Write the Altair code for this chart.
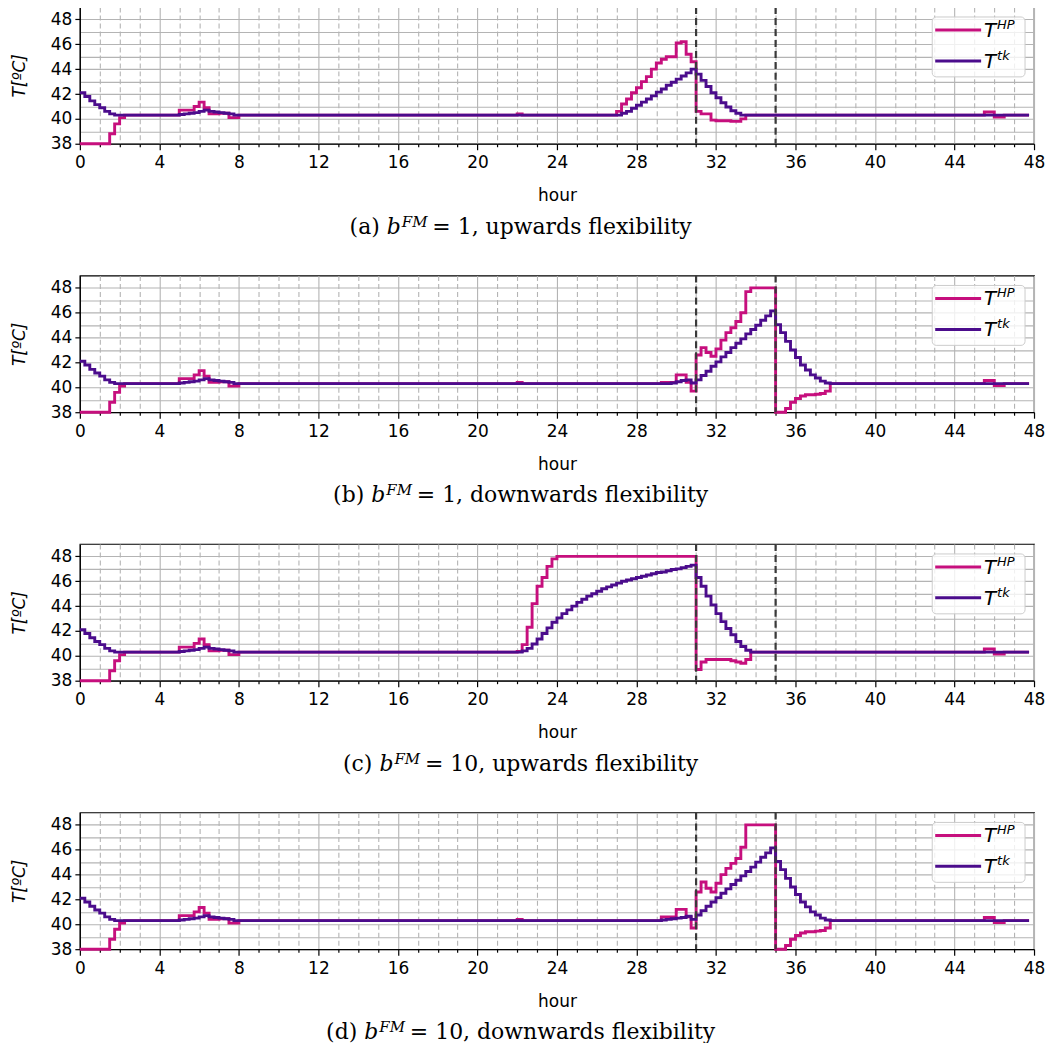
import altair as alt
import pandas as pd

HP = "HP"
TK = "tk"
SERIES = [HP, TK]
COLORS = ["#c60f7d", "#4b0c8c"]

X_TICKS = list(range(0, 49))
Y_TICKS = list(range(38, 49))
EVENT_HOURS = [31, 35]

# ---- segments shared by all four runs ----
HP_START_H = [0.0, 1.5, 1.75, 2.0, 2.25, 5.0, 5.75, 6.0, 6.25, 6.5, 7.0, 7.5, 8.0]
HP_START_V = [38.0, 38.8, 39.6, 40.1, 40.3, 40.7, 41.0, 41.35, 40.9, 40.4, 40.45, 40.1, 40.3]
TK_START_H = [0.0, 0.25, 0.5, 0.75, 1.0, 1.25, 1.5, 1.75, 5.0, 5.25, 5.5, 5.75,
              6.0, 6.25, 6.5, 6.75, 7.0, 7.25, 7.5, 7.75]
TK_START_V = [42.1, 41.8, 41.45, 41.15, 40.9, 40.6, 40.4, 40.3, 40.35, 40.4, 40.45, 40.5,
              40.6, 40.7, 40.6, 40.55, 40.5, 40.45, 40.4, 40.3]
HP_END_H = [45.5, 46.0, 46.5, 47.75]
HP_END_V = [40.55, 40.15, 40.3, 40.3]
TK_END_H = [47.75]
TK_END_V = [40.3]

# ---- (a) b=1, upwards ----
HP_A_H = [22.0, 22.25, 27.0, 27.25, 27.5, 27.75, 28.0, 28.25, 28.5, 28.75, 29.0, 29.25,
          29.5, 29.75, 30.0, 30.25, 30.5, 30.75, 31.0, 31.25, 31.5, 31.75, 32.0, 32.5,
          32.75, 33.0, 33.25, 33.5]
HP_A_V = [40.4, 40.3, 40.6, 41.2, 41.6, 42.1, 42.5, 43.0, 43.4, 44.0, 44.5, 44.8,
          45.0, 45.0, 46.1, 46.2, 45.2, 44.6, 40.6, 40.4, 40.4, 39.9, 39.85, 39.85,
          39.8, 39.8, 40.0, 40.3]
TK_A_H = [27.25, 27.5, 27.75, 28.0, 28.25, 28.5, 28.75, 29.0, 29.25, 29.5, 29.75, 30.0,
          30.25, 30.5, 30.75, 31.0, 31.25, 31.5, 31.75, 32.0, 32.25, 32.5, 32.75, 33.0, 33.25]
TK_A_V = [40.45, 40.6, 40.85, 41.1, 41.35, 41.6, 41.85, 42.15, 42.4, 42.7, 42.95, 43.2,
          43.45, 43.7, 44.0, 43.6, 43.1, 42.6, 42.1, 41.7, 41.3, 40.95, 40.65, 40.45, 40.3]

# ---- (b) b=1, downwards ----
HP_B_H = [22.0, 22.25, 29.25, 30.0, 30.5, 30.75, 31.0, 31.25, 31.5, 31.75, 32.0, 32.25,
          32.5, 32.75, 33.0, 33.25, 33.5, 33.75, 35.0, 35.5, 35.75, 36.0, 36.25, 36.5,
          37.0, 37.25, 37.5, 37.75]
HP_B_V = [40.4, 40.3, 40.4, 41.0, 40.4, 39.7, 42.6, 43.2, 42.8, 42.5, 43.1, 43.8,
          44.4, 44.8, 45.3, 46.0, 47.7, 48.0, 38.0, 38.3, 38.8, 39.1, 39.3, 39.4,
          39.45, 39.5, 39.7, 40.3]
TK_B_H = [29.75, 30.0, 30.25, 30.5, 30.75, 31.0, 31.25, 31.5, 31.75, 32.0, 32.25, 32.5,
          32.75, 33.0, 33.25, 33.5, 33.75, 34.0, 34.25, 34.5, 34.75, 35.0, 35.25, 35.5,
          35.75, 36.0, 36.25, 36.5, 36.75, 37.0, 37.25, 37.5, 37.75]
TK_B_V = [40.35, 40.45, 40.55, 40.6, 40.35, 40.6, 40.95, 41.3, 41.7, 42.05, 42.45, 42.8,
          43.2, 43.55, 43.9, 44.3, 44.65, 45.0, 45.4, 45.75, 46.15, 45.05, 44.4, 43.7,
          43.0, 42.4, 41.8, 41.4, 41.0, 40.75, 40.5, 40.35, 40.3]

# ---- (c) b=10, upwards ----
HP_C_H = [22.0, 22.25, 22.5, 22.75, 23.0, 23.25, 23.5, 23.75, 24.0, 31.0, 31.25, 31.5,
          32.75, 33.0, 33.25, 33.5, 33.75]
HP_C_V = [40.35, 40.9, 42.3, 44.2, 45.6, 46.3, 47.2, 47.8, 48.0, 38.9, 39.5, 39.7,
          39.6, 39.5, 39.4, 39.7, 40.3]
TK_C_H = [22.25, 22.5, 22.75, 23.0, 23.25, 23.5, 23.75, 24.0, 24.25, 24.5, 24.75, 25.0,
          25.25, 25.5, 25.75, 26.0, 26.25, 26.5, 26.75, 27.0, 27.25, 27.5, 27.75, 28.0,
          28.25, 28.5, 28.75, 29.0, 29.25, 29.5, 29.75, 30.0, 30.25, 30.5, 30.75, 31.0,
          31.25, 31.5, 31.75, 32.0, 32.25, 32.5, 32.75, 33.0, 33.25, 33.5, 33.75]
TK_C_V = [40.4, 40.6, 40.95, 41.35, 41.8, 42.25, 42.7, 43.05, 43.4, 43.7, 44.0, 44.3,
          44.55, 44.8, 45.0, 45.2, 45.4, 45.55, 45.7, 45.85, 46.0, 46.1, 46.2, 46.3,
          46.4, 46.5, 46.6, 46.7, 46.75, 46.85, 46.95, 47.0, 47.1, 47.2, 47.3, 46.3,
          45.6, 44.8, 44.1, 43.4, 42.75, 42.2, 41.7, 41.15, 40.75, 40.45, 40.3]

# ---- (d) b=10, downwards ----
HP_D_H = [22.0, 22.25, 29.25, 30.0, 30.5, 30.75, 31.0, 31.25, 31.5, 31.75, 32.0, 32.25,
          32.5, 32.75, 33.0, 33.25, 33.5, 35.0, 35.5, 35.75, 36.0, 36.25, 36.5, 37.0,
          37.25, 37.5, 37.75]
HP_D_V = [40.4, 40.3, 40.6, 41.2, 40.6, 39.7, 42.6, 43.4, 42.9, 42.6, 43.3, 44.0,
          44.5, 44.9, 45.3, 46.2, 48.0, 38.0, 38.3, 38.8, 39.1, 39.3, 39.4, 39.45,
          39.5, 39.7, 40.3]
TK_D_H = [29.25, 29.5, 29.75, 30.0, 30.25, 30.5, 30.75, 31.0, 31.25, 31.5, 31.75, 32.0,
          32.25, 32.5, 32.75, 33.0, 33.25, 33.5, 33.75, 34.0, 34.25, 34.5, 34.75, 35.0,
          35.25, 35.5, 35.75, 36.0, 36.25, 36.5, 36.75, 37.0, 37.25, 37.5, 37.75]
TK_D_V = [40.35, 40.4, 40.45, 40.5, 40.55, 40.65, 40.4, 40.75, 41.1, 41.45, 41.8, 42.15,
          42.5, 42.85, 43.2, 43.55, 43.9, 44.25, 44.6, 45.0, 45.4, 45.75, 46.15, 45.05,
          44.4, 43.7, 43.0, 42.4, 41.8, 41.4, 41.0, 40.75, 40.5, 40.35, 40.3]

CAPTIONS = [
    ("(a)", "= 1, upwards flexibility"),
    ("(b)", "= 1, downwards flexibility"),
    ("(c)", "= 10, upwards flexibility"),
    ("(d)", "= 10, downwards flexibility"),
]
PANELS = [
    (HP_A_H, HP_A_V, TK_A_H, TK_A_V),
    (HP_B_H, HP_B_V, TK_B_H, TK_B_V),
    (HP_C_H, HP_C_V, TK_C_H, TK_C_V),
    (HP_D_H, HP_D_V, TK_D_H, TK_D_V),
]

W, H = 956, 137
AX_FONT = "DejaVu Sans"
CAP_FONT = "DejaVu Serif"
CAP_SIZE = 22
SUP_SIZE = 15

# approximate DejaVu Serif advance widths (em) for caption layout
CW = {" ": 0.318, "(": 0.39, ")": 0.39, "a": 0.596, "b": 0.64, "c": 0.56, "d": 0.64,
      "e": 0.592, "f": 0.37, "i": 0.32, "l": 0.32, "n": 0.644, "o": 0.602, "p": 0.64,
      "r": 0.478, "s": 0.513, "t": 0.402, "u": 0.644, "w": 0.856, "x": 0.564, "y": 0.565,
      "=": 0.838, "0": 0.636, "1": 0.636, ",": 0.318, "F": 0.67, "M": 0.9}


def tw(s, size):
    return sum(CW.get(c, 0.6) for c in s) * size


x_scale = alt.Scale(domain=[0, 48], nice=False, zero=False)
y_scale = alt.Scale(domain=[38, 49], nice=False, zero=False)

x_axis = alt.Axis(
    values=X_TICKS,
    labelExpr="datum.value % 4 === 0 ? datum.label : ''",
    labelOverlap=False, labelFlush=False,
    grid=True, gridColor="#b4b4b4", gridWidth=1.1,
    gridDash={"condition": {"test": "datum.value % 4 === 0", "value": [1, 0]}, "value": [5, 3]},
    tickSize={"condition": {"test": "datum.value % 4 === 0", "value": 6}, "value": 3},
    tickColor="black", tickWidth=1.2, domainColor="black", domainWidth=1.2,
    labelPadding=5, title="hour", titlePadding=16, minExtent=28, maxExtent=28,
)
y_axis = alt.Axis(
    values=Y_TICKS,
    labelExpr="datum.value % 2 === 0 ? datum.label : ''",
    labelOverlap=False, labelFlush=False,
    grid=True, gridColor="#b4b4b4", gridWidth=1.1,
    tickOpacity={"condition": {"test": "datum.value % 2 === 0", "value": 1}, "value": 0},
    tickSize=5, tickColor="black", tickWidth=1.2, domainColor="black", domainWidth=1.2,
    labelPadding=3, title="T[ºC]", titleFontStyle="italic", titlePadding=9,
    minExtent=42, maxExtent=42,
)


def txt(s, x, y, size, style, align, font, color="black"):
    return alt.Chart(pd.DataFrame({"t": [s]})).mark_text(
        align=align, baseline="alphabetic", font=font, fontSize=size,
        fontStyle=style, color=color
    ).encode(x=alt.value(x), y=alt.value(y), text="t:N")


def legend_layers():
    box = alt.Chart(pd.DataFrame({"k": [0]})).mark_rect(
        fill="white", fillOpacity=0.8, stroke="#cccccc", strokeWidth=1, cornerRadius=4
    ).encode(x=alt.value(W - 102), x2=alt.value(W - 9), y=alt.value(10), y2=alt.value(70))
    out = [box]
    for i, name in enumerate(SERIES):
        yy = 23 + 31 * i
        out.append(
            alt.Chart(pd.DataFrame({"k": [name]})).mark_rule(
                color=COLORS[i], strokeWidth=3
            ).encode(x=alt.value(W - 99), x2=alt.value(W - 53), y=alt.value(yy))
        )
        out.append(txt("T", W - 50, yy + 7, 20, "italic", "left", AX_FONT))
        out.append(txt(name, W - 37, yy - 1, 13, "italic", "left", AX_FONT))
    return out


def make_panel(idx):
    hp_h, hp_v, tk_h, tk_v = PANELS[idx]
    rows = []
    for h, v in zip(HP_START_H + hp_h + HP_END_H, HP_START_V + hp_v + HP_END_V):
        rows.append({"hour": h, "T": v, "series": HP})
    for h, v in zip(TK_START_H + tk_h + TK_END_H, TK_START_V + tk_v + TK_END_V):
        rows.append({"hour": h, "T": v, "series": TK})
    df = pd.DataFrame(rows)

    lines = alt.Chart(df).mark_line(interpolate="step-after", strokeWidth=2.9).encode(
        x=alt.X("hour:Q", scale=x_scale, axis=x_axis),
        y=alt.Y("T:Q", scale=y_scale, axis=y_axis),
        color=alt.Color("series:N", scale=alt.Scale(domain=SERIES, range=COLORS), legend=None),
    )
    events = alt.Chart(pd.DataFrame({"hour": EVENT_HOURS})).mark_rule(
        color="#3a3a3a", strokeDash=[7, 4], strokeWidth=2.2
    ).encode(x=alt.X("hour:Q", scale=x_scale, axis=x_axis))

    pre, post = CAPTIONS[idx]
    sp = tw(" ", CAP_SIZE)
    total = tw(pre, CAP_SIZE) + sp + tw("b", CAP_SIZE) + 1 + tw("FM", SUP_SIZE) + sp + tw(post, CAP_SIZE)
    start = 442 - total / 2
    xb = start + tw(pre, CAP_SIZE) + sp
    xf = xb + tw("b", CAP_SIZE) + 1
    xp = xf + tw("FM", SUP_SIZE) + sp
    base_y = H + 90

    caps = [
        txt(pre, xb - sp, base_y, CAP_SIZE, "normal", "right", CAP_FONT),
        txt("b", xb, base_y, CAP_SIZE, "italic", "left", CAP_FONT),
        txt("FM", xf, base_y - 7, SUP_SIZE, "italic", "left", CAP_FONT),
        txt(post, xp, base_y, CAP_SIZE, "normal", "left", CAP_FONT),
    ]
    return alt.layer(lines, events, *legend_layers(), *caps).properties(width=W, height=H)


chart = alt.vconcat(*[make_panel(i) for i in range(4)], spacing=35).resolve_scale(
    color="independent"
).properties(
    padding={"left": 2, "top": -4, "right": 0, "bottom": -2}
).configure_view(
    stroke="black", strokeWidth=1.2
).configure_axis(
    labelFont=AX_FONT, labelFontSize=17, labelColor="black",
    titleFont=AX_FONT, titleFontSize=17, titleFontWeight="normal", titleColor="black",
)

chart.save("out.html", embed_options={"renderer": "svg", "actions": False})
